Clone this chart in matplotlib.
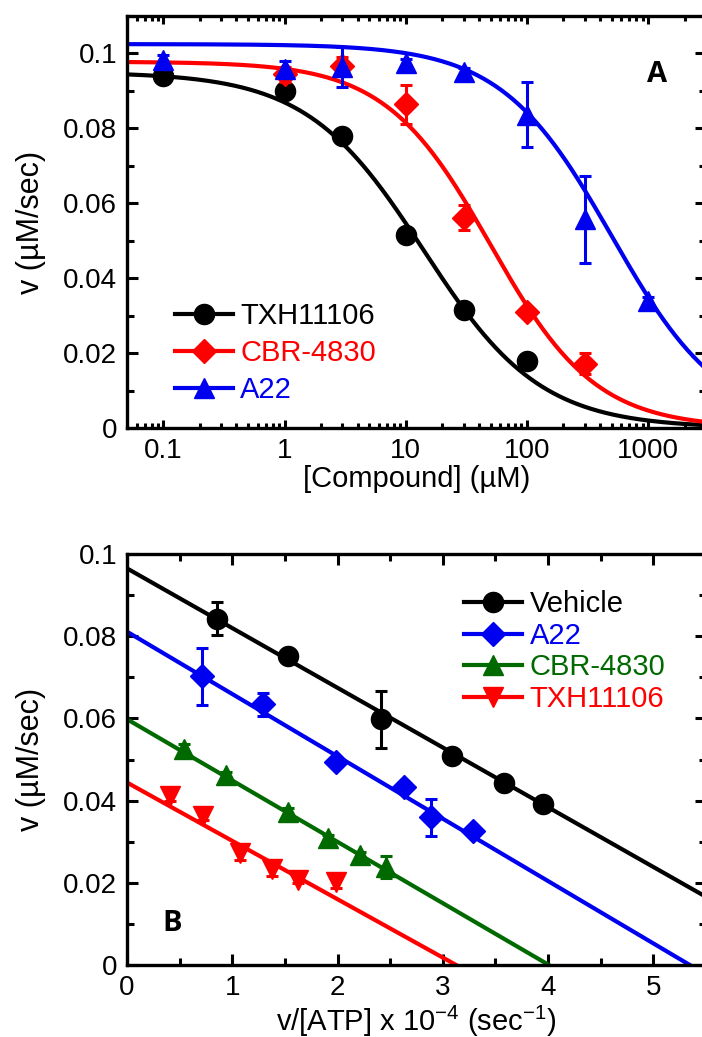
import numpy as np
import matplotlib
matplotlib.use("Agg")
import matplotlib.pyplot as plt
from matplotlib.ticker import MultipleLocator, LogLocator, FuncFormatter, NullFormatter

plt.rcParams['font.family'] = ['Liberation Sans', 'DejaVu Sans']
plt.rcParams['mathtext.default'] = 'regular'

# ---- panel A: dose response ----
conc_txh = [0.1, 1, 3, 10, 30, 100]
v_txh = [0.0940, 0.0900, 0.0780, 0.0515, 0.0315, 0.0178]
err_txh = [0.0008, 0.0012, 0.0008, 0.0008, 0.0008, 0.0008]

conc_cbr = [1, 3, 10, 30, 100, 300]
v_cbr = [0.0944, 0.0966, 0.0864, 0.0562, 0.0310, 0.0172]
err_cbr = [0.0020, 0.0025, 0.0053, 0.0034, 0.0012, 0.0029]

conc_a22 = [0.1, 1, 3, 10, 30, 100, 300, 1000]
v_a22 = [0.0982, 0.0959, 0.0964, 0.0975, 0.0950, 0.0837, 0.0557, 0.0340]
err_a22 = [0.0015, 0.0020, 0.0053, 0.0010, 0.0010, 0.0087, 0.0117, 0.0010]

# fitted curves: top, IC50, hill slope
fit_txh = (0.0950, 14.0, 0.90)
fit_cbr = (0.0978, 50.0, 1.00)
fit_a22 = (0.1025, 500.0, 0.95)

# ---- panel B: Eadie-Hofstee ----
x_veh = [0.856, 1.525, 2.41, 3.09, 3.585, 3.95]
v_veh = [0.0843, 0.0752, 0.0598, 0.0509, 0.0444, 0.0392]
e_veh = [0.0039, 0.0012, 0.0069, 0.0012, 0.0008, 0.0008]

x_a22b = [0.715, 1.29, 1.99, 2.63, 2.89, 3.29]
v_a22b = [0.0702, 0.0635, 0.0493, 0.0434, 0.0359, 0.0326]
e_a22b = [0.0069, 0.0028, 0.0010, 0.0010, 0.0046, 0.0008]

x_cbrb = [0.54, 0.944, 1.525, 1.905, 2.21, 2.465]
v_cbrb = [0.0525, 0.0462, 0.0373, 0.0308, 0.0268, 0.0239]
e_cbrb = [0.0012, 0.0008, 0.0008, 0.0008, 0.0008, 0.0027]

x_txhb = [0.405, 0.725, 1.07, 1.38, 1.62, 1.99]
v_txhb = [0.0410, 0.0362, 0.0272, 0.0233, 0.0207, 0.0201]
e_txhb = [0.0012, 0.0008, 0.0016, 0.0016, 0.0008, 0.0014]

# linear fits: intercept, slope
line_veh = (0.0965, -0.01453)
line_a22b = (0.0811, -0.01517)
line_cbrb = (0.0598, -0.01492)
line_txhb = (0.0444, -0.01420)

RED = '#ff0000'
BLUE = '#0000f0'
GREEN = '#006a00'
FS = 20
LFS = 21
MS = 14.5
LW = 3

fig = plt.figure(figsize=(7.02, 10.37), dpi=100)
axA = fig.add_axes([127/702, 1 - 428/1037, 579/702, 412/1037])
axB = fig.add_axes([127/702, 1 - 965/1037, 579/702, 411/1037])

fmt = FuncFormatter(lambda v, p: '%g' % v)


def msize(mk):
    return MS - 2 if mk == 'D' else MS


# panel A
xs = np.logspace(np.log10(0.05), np.log10(3000), 400)
series_a = [('TXH11106', conc_txh, v_txh, err_txh, fit_txh, 'black', 'o'),
            ('CBR-4830', conc_cbr, v_cbr, err_cbr, fit_cbr, RED, 'D'),
            ('A22', conc_a22, v_a22, err_a22, fit_a22, BLUE, '^')]
for name, cx, cv, ce, fit, col, mk in series_a:
    top, ic50, h = fit
    axA.plot(xs, top / (1 + (xs / ic50) ** h), color=col, lw=LW)
    axA.errorbar(cx, cv, yerr=ce, fmt='none', ecolor=col, elinewidth=2.2, capsize=4, capthick=2.2)
    axA.plot(cx, cv, ls='none', marker=mk, color=col, ms=msize(mk))
    axA.plot([], [], color=col, lw=LW, marker=mk, ms=msize(mk), label=name)

axA.set_xscale('log')
axA.set_xlim(0.05, 3000)
axA.set_ylim(0, 0.11)
axA.xaxis.set_major_locator(LogLocator(base=10, numticks=10))
axA.xaxis.set_minor_locator(LogLocator(base=10, subs=np.arange(2, 10), numticks=10))
axA.xaxis.set_minor_formatter(NullFormatter())
axA.xaxis.set_major_formatter(fmt)
axA.yaxis.set_major_locator(MultipleLocator(0.02))
axA.yaxis.set_minor_locator(MultipleLocator(0.01))
axA.yaxis.set_major_formatter(fmt)
axA.set_xlabel('[Compound] (µM)', fontsize=FS + 1, labelpad=1)
axA.set_ylabel('v (µM/sec)', fontsize=FS + 2, labelpad=12)
axA.text(0.915, 0.857, 'A', transform=axA.transAxes, fontsize=FS + 1, fontweight='bold',
         family=['Open Sans', 'DejaVu Sans'], ha='center', va='center')
legA = axA.legend(loc='lower left', bbox_to_anchor=(0.062, 0.03), frameon=False, fontsize=LFS,
                  handlelength=2.0, handletextpad=0.25, labelspacing=0.3, borderaxespad=0)
for t, s in zip(legA.get_texts(), series_a):
    t.set_color(s[5])

# panel B
xl = np.linspace(0, 5.5, 50)
series_b = [('Vehicle', x_veh, v_veh, e_veh, line_veh, 'black', 'o'),
            ('A22', x_a22b, v_a22b, e_a22b, line_a22b, BLUE, 'D'),
            ('CBR-4830', x_cbrb, v_cbrb, e_cbrb, line_cbrb, GREEN, '^'),
            ('TXH11106', x_txhb, v_txhb, e_txhb, line_txhb, RED, 'v')]
for name, bx, bv, be, ln, col, mk in series_b:
    axB.plot(xl, ln[0] + ln[1] * xl, color=col, lw=LW)
    axB.errorbar(bx, bv, yerr=be, fmt='none', ecolor=col, elinewidth=2.2, capsize=4, capthick=2.2)
    axB.plot(bx, bv, ls='none', marker=mk, color=col, ms=msize(mk))
    axB.plot([], [], color=col, lw=LW, marker=mk, ms=msize(mk), label=name)

axB.set_xlim(0, 5.5)
axB.set_ylim(0, 0.1)
axB.xaxis.set_major_locator(MultipleLocator(1))
axB.xaxis.set_minor_locator(MultipleLocator(0.5))
axB.xaxis.set_major_formatter(fmt)
axB.yaxis.set_major_locator(MultipleLocator(0.02))
axB.yaxis.set_minor_locator(MultipleLocator(0.01))
axB.yaxis.set_major_formatter(fmt)
axB.set_xlabel('v/[ATP] x 10$^{-4}$ (sec$^{-1}$)', fontsize=FS + 1, labelpad=2)
axB.set_ylabel('v (µM/sec)', fontsize=FS + 2, labelpad=12)
axB.text(0.078, 0.102, 'B', transform=axB.transAxes, fontsize=FS + 1, fontweight='bold',
         family=['Open Sans', 'DejaVu Sans'], ha='center', va='center')
legB = axB.legend(loc='upper left', bbox_to_anchor=(0.562, 0.94), frameon=False, fontsize=LFS,
                  handlelength=2.0, handletextpad=0.25, labelspacing=0.12, borderaxespad=0)
for t, s in zip(legB.get_texts(), series_b):
    t.set_color(s[5])

for ax in (axA, axB):
    for sp in ax.spines.values():
        sp.set_linewidth(2.4)
    ax.tick_params(which='both', direction='in', top=True, right=True, width=2.2,
                   labelsize=FS, pad=7)
    ax.tick_params(axis='y', which='major', length=8)
    ax.tick_params(axis='y', which='minor', length=5)
axA.tick_params(axis='x', which='major', length=6)
axA.tick_params(axis='x', which='minor', length=3.5)
axB.tick_params(axis='x', which='major', length=8)
axB.tick_params(axis='x', which='minor', length=5)

fig.savefig('out.png', dpi=100)
